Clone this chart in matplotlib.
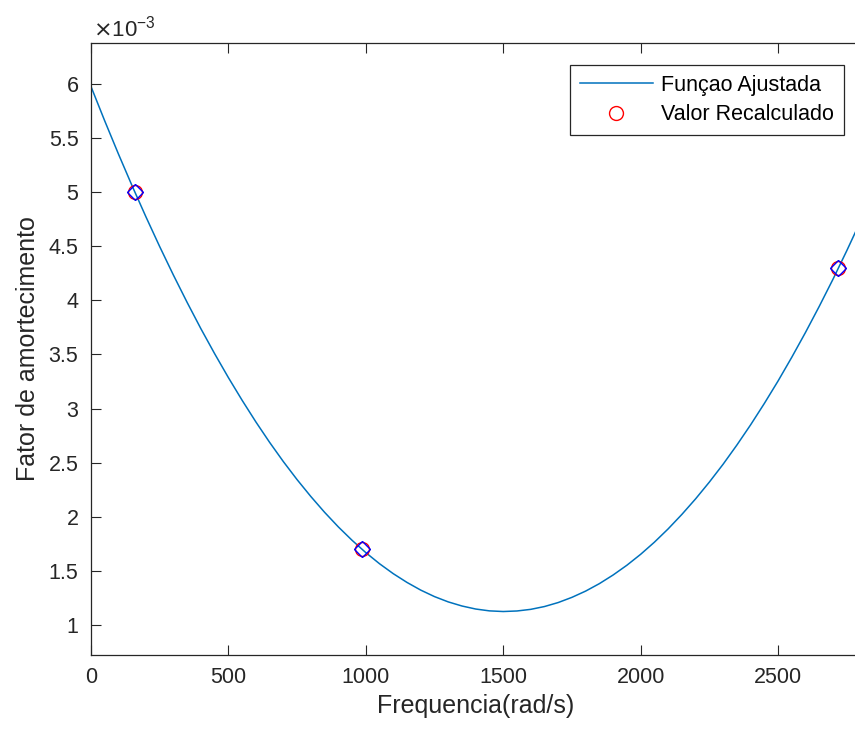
import matplotlib
matplotlib.use("Agg")
import matplotlib.pyplot as plt
from matplotlib.ticker import FormatStrFormatter, MultipleLocator

# fitted curve (y in units of 1e-3)
freq_curve = [0, 50, 100, 150, 200, 250, 300, 350, 400, 450, 500, 550, 600, 650, 700, 750,
              800, 850, 900, 950, 1000, 1050, 1100, 1150, 1200, 1250, 1300, 1350, 1400, 1450,
              1500, 1550, 1600, 1650, 1700, 1750, 1800, 1850, 1900, 1950, 2000, 2050, 2100,
              2150, 2200, 2250, 2300, 2350, 2400, 2450, 2500, 2550, 2600, 2650, 2700, 2750, 2800]
damp_curve = [5.979, 5.661, 5.354, 5.058, 4.773, 4.498, 4.234, 3.981, 3.738, 3.507, 3.286,
              3.076, 2.876, 2.687, 2.509, 2.342, 2.186, 2.040, 1.905, 1.781, 1.667, 1.564,
              1.472, 1.391, 1.320, 1.260, 1.211, 1.173, 1.145, 1.128, 1.122, 1.127, 1.142,
              1.168, 1.205, 1.253, 1.311, 1.380, 1.460, 1.550, 1.651, 1.763, 1.886, 2.020,
              2.164, 2.319, 2.484, 2.661, 2.848, 3.046, 3.254, 3.474, 3.704, 3.945, 4.196,
              4.459, 4.732]

# recalculated points
freq_pts = [160, 985, 2720]
damp_pts = [5.0, 1.7, 4.3]

plt.rcParams['font.family'] = ['Liberation Sans', 'DejaVu Sans']

fig = plt.figure(figsize=(8.55, 7.31), dpi=100)
ax = fig.add_axes([0.1064, 0.104, 0.9, 0.837])

ax.plot(freq_curve, damp_curve, color='#0072BD', lw=1.1, label='Funçao Ajustada')
ax.plot(freq_pts, damp_pts, 'o', color='red', mfc='none', ms=10, mew=1.0,
        label='Valor Recalculado')
ax.plot(freq_pts, damp_pts, 'D', color='blue', mfc='none', ms=8.5, mew=1.0)

ax.set_xlim(0, 2800)
ax.set_ylim(0.72, 6.38)
ax.xaxis.set_major_locator(MultipleLocator(500))
ax.yaxis.set_major_locator(MultipleLocator(0.5))
ax.yaxis.set_major_formatter(FormatStrFormatter('%g'))

ax.tick_params(direction='in', length=7, width=0.8, top=True, right=False,
               labelsize=15.5, colors='#262626', pad=9)
for s in ax.spines.values():
    s.set_color('#262626')
    s.set_linewidth(0.9)
ax.spines['right'].set_visible(False)

ax.set_xlabel('Frequencia(rad/s)', fontsize=18, color='#262626', labelpad=4)
ax.set_ylabel('Fator de amortecimento', fontsize=18, color='#262626', labelpad=6)
ax.text(0.003, 1.003, r'$\times$10$^{\mathregular{-3}}$', transform=ax.transAxes,
        fontsize=16, color='#262626', va='bottom', ha='left')

leg = ax.legend(loc='upper right', bbox_to_anchor=(844 / 855, 1 - 65 / 731),
                bbox_transform=fig.transFigure, fontsize=15.5, fancybox=False,
                framealpha=1, edgecolor='#262626', borderpad=0.45,
                handlelength=3.4, handletextpad=0.4, labelspacing=0.4,
                borderaxespad=0)
leg.get_frame().set_linewidth(0.9)

plt.savefig('out.png', dpi=100)
